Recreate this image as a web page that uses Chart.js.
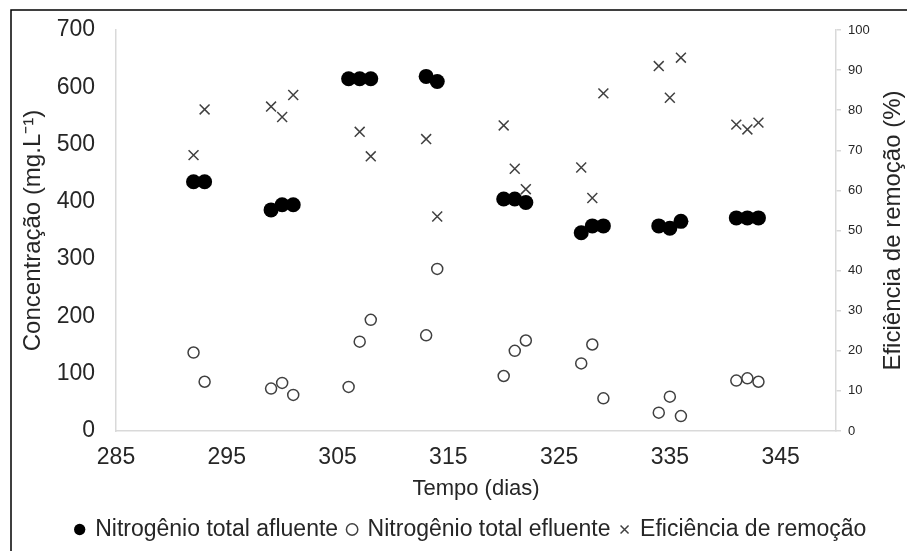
<!DOCTYPE html>
<html>
<head>
<meta charset="utf-8">
<script src="https://cdn.jsdelivr.net/npm/chart.js@4"></script>
<style>
  body { margin: 0; background: #fff; }
  canvas { display: block; }
</style>
</head>
<body>
<canvas id="chart" width="907" height="551"></canvas>
<script>
// dias de operação
const days = [292, 293, 299, 300, 301, 306, 307, 308, 313, 314, 320, 321, 322,
              327, 328, 329, 334, 335, 336, 341, 342, 343];
// mg/L
const afluente = [435, 435, 386, 395, 395, 615, 615, 615, 619, 610, 405, 405, 399,
                  346, 358, 358, 358, 354, 366, 372, 372, 372];
const efluente = [137, 86, 74, 84, 63, 77, 156, 194, 167, 283, 96, 140, 158,
                  118, 151, 57, 32, 60, 26, 88, 92, 86];
// %
const eficiencia = [68.8, 80.2, 80.9, 78.3, 83.8, 87.9, 74.6, 68.5, 72.8, 53.5, 76.2, 65.4, 60.3,
                    65.7, 58.1, 84.2, 91.0, 83.1, 93.1, 76.4, 75.2, 76.9];
const xTicks = [285, 295, 305, 315, 325, 335, 345];

const toPoints = (vals) => vals.map((v, i) => ({ x: days[i], y: v }));

const textColor = '#262626';
const axisColor = '#d9d9d9';
const fontFamily = 'Arial, "Liberation Sans", sans-serif';

const framePlugin = {
  id: 'frame',
  afterDraw: (chart) => {
    const ctx = chart.ctx;
    ctx.save();
    ctx.strokeStyle = '#000';
    ctx.lineWidth = 1.5;
    ctx.beginPath();
    ctx.moveTo(11, 551);
    ctx.lineTo(11, 10);
    ctx.lineTo(907, 10);
    ctx.stroke();

    // right axis title reads bottom to top, like Excel
    const area = chart.chartArea;
    ctx.translate(893, (area.top + area.bottom) / 2);
    ctx.rotate(-Math.PI / 2);
    ctx.fillStyle = textColor;
    ctx.font = '24px ' + fontFamily;
    ctx.textAlign = 'center';
    ctx.textBaseline = 'middle';
    ctx.fillText('Eficiência de remoção (%)', 0, 0);
    ctx.restore();
  },
};

new Chart(document.getElementById('chart'), {
  type: 'scatter',
  data: {
    datasets: [
      {
        label: 'Nitrogênio total afluente',
        data: toPoints(afluente),
        yAxisID: 'y',
        pointStyle: 'circle',
        pointRadius: 7.5,
        backgroundColor: '#000',
        borderColor: '#000',
        borderWidth: 0,
      },
      {
        label: 'Nitrogênio total efluente',
        data: toPoints(efluente),
        yAxisID: 'y',
        pointStyle: 'circle',
        pointRadius: 5.5,
        backgroundColor: '#fff',
        borderColor: '#404040',
        borderWidth: 1.5,
      },
      {
        label: 'Eficiência de remoção',
        data: toPoints(eficiencia),
        yAxisID: 'y1',
        pointStyle: 'crossRot',
        pointRadius: 7,
        backgroundColor: '#404040',
        borderColor: '#404040',
        borderWidth: 1.5,
      },
    ],
  },
  options: {
    responsive: false,
    animation: false,
    layout: { padding: { left: 35, top: 30, right: 0, bottom: 0 } },
    plugins: {
      tooltip: { enabled: false },
      legend: {
        position: 'bottom',
        labels: {
          usePointStyle: true,
          boxWidth: 8,
          boxHeight: 8,
          padding: 10,
          color: textColor,
          font: { size: 23, family: fontFamily },
        },
      },
    },
    scales: {
      x: {
        type: 'linear',
        min: 285,
        max: 350,
        afterBuildTicks: (scale) => {
          scale.ticks = xTicks.map((v) => ({ value: v }));
        },
        afterFit: (scale) => {
          scale.height = 77;
        },
        grid: { display: false },
        border: { color: axisColor, width: 1.5 },
        ticks: {
          padding: 5,
          color: textColor,
          font: { size: 23, family: fontFamily },
        },
        title: {
          display: true,
          text: 'Tempo (dias)',
          color: textColor,
          font: { size: 22, family: fontFamily },
          padding: { top: 0, bottom: 6 },
        },
      },
      y: {
        position: 'left',
        min: 0,
        max: 700,
        afterFit: (scale) => {
          scale.width = 81;
        },
        grid: { display: false },
        border: { color: axisColor, width: 1.5 },
        ticks: {
          stepSize: 100,
          padding: 13,
          color: textColor,
          font: { size: 23, family: fontFamily },
        },
        title: {
          display: true,
          text: 'Concentração (mg.L⁻¹)',
          color: textColor,
          font: { size: 24, family: fontFamily },
          padding: { top: -16, bottom: 0 },
        },
      },
      y1: {
        position: 'right',
        min: 0,
        max: 100,
        afterFit: (scale) => {
          scale.width = 71;
        },
        grid: {
          display: true,
          drawOnChartArea: false,
          drawTicks: true,
          tickLength: 5,
          color: axisColor,
          lineWidth: 1.5,
        },
        border: { color: axisColor, width: 1.5 },
        ticks: {
          stepSize: 10,
          padding: 7,
          color: textColor,
          font: { size: 13, family: fontFamily },
        },
      },
    },
  },
  plugins: [framePlugin],
});
</script>
</body>
</html>
